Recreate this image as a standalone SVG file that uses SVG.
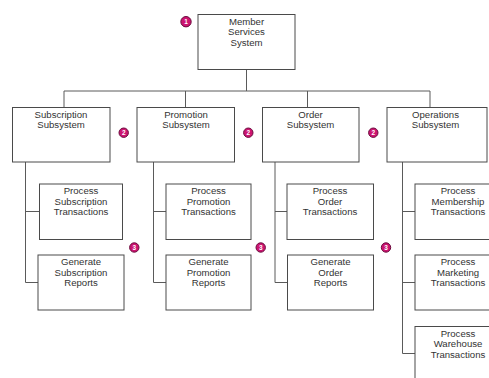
<svg xmlns="http://www.w3.org/2000/svg" width="489" height="378" viewBox="0 0 489 378">
<defs>
<style>
.box{fill:#fff;stroke:#4a4a4a;stroke-width:1}
.ln{fill:none;stroke:#5a5a5a;stroke-width:1}
.t{font-family:"Liberation Sans",Arial,sans-serif;font-size:9.6px;fill:#333;text-anchor:middle}
.bd{fill:#cc1470;stroke:#6a0a3c;stroke-width:1}
.bt{font-family:"Liberation Sans",Arial,sans-serif;font-size:6.5px;font-weight:bold;fill:#fff;text-anchor:middle}
</style>
</defs>
<rect width="489" height="378" fill="#fff"/>
<g id="connectors">
<path class="ln" d="M246.5 69V91M64 91H430M64 91V107M185.5 91V107M307.5 91V107M430 91V107"/>
<path class="ln" d="M25.5 162V282.5M25.5 211.5H39M25.5 282.5H38"/>
<path class="ln" d="M153.5 162V282.5M153.5 211.5H166M153.5 282.5H166"/>
<path class="ln" d="M275 162V282.5M275 211.5H287M275 282.5H287"/>
<path class="ln" d="M402.5 162V353.5M402.5 211.5H415M402.5 282.5H415M402.5 353.5H415"/>
</g>
<g id="n-member">
<rect class="box" x="198" y="14.5" width="97" height="55"/>
<text class="t" x="246.5" y="25">Member</text>
<text class="t" x="246.5" y="35.3">Services</text>
<text class="t" x="246.5" y="45.6">System</text>
</g>
<g id="n-subscription">
<rect class="box" x="12.5" y="107.5" width="97.5" height="54.5"/>
<text class="t" x="61" y="117.5">Subscription</text>
<text class="t" x="61" y="127.8">Subsystem</text>
</g>
<g id="n-promotion">
<rect class="box" x="137" y="107.5" width="97.5" height="54.5"/>
<text class="t" x="186" y="117.5">Promotion</text>
<text class="t" x="186" y="127.8">Subsystem</text>
</g>
<g id="n-order">
<rect class="box" x="262.5" y="107.5" width="96.5" height="54.5"/>
<text class="t" x="310.5" y="117.5">Order</text>
<text class="t" x="310.5" y="127.8">Subsystem</text>
</g>
<g id="n-operations">
<rect class="box" x="387" y="107.5" width="100" height="54.5"/>
<text class="t" x="435.5" y="117.5">Operations</text>
<text class="t" x="435.5" y="127.8">Subsystem</text>
</g>
<g id="n-proc-sub">
<rect class="box" x="39.5" y="184" width="83" height="55.5"/>
<text class="t" x="81" y="194">Process</text>
<text class="t" x="81" y="204.5">Subscription</text>
<text class="t" x="81" y="215">Transactions</text>
</g>
<g id="n-gen-sub">
<rect class="box" x="38" y="255" width="86" height="55"/>
<text class="t" x="81" y="265">Generate</text>
<text class="t" x="81" y="275.5">Subscription</text>
<text class="t" x="81" y="286">Reports</text>
</g>
<g id="n-proc-promo">
<rect class="box" x="166" y="184" width="85" height="55.5"/>
<text class="t" x="208.5" y="194">Process</text>
<text class="t" x="208.5" y="204.5">Promotion</text>
<text class="t" x="208.5" y="215">Transactions</text>
</g>
<g id="n-gen-promo">
<rect class="box" x="166" y="255" width="85" height="55"/>
<text class="t" x="208.5" y="265">Generate</text>
<text class="t" x="208.5" y="275.5">Promotion</text>
<text class="t" x="208.5" y="286">Reports</text>
</g>
<g id="n-proc-order">
<rect class="box" x="287" y="184" width="86.5" height="55.5"/>
<text class="t" x="330" y="194">Process</text>
<text class="t" x="330" y="204.5">Order</text>
<text class="t" x="330" y="215">Transactions</text>
</g>
<g id="n-gen-order">
<rect class="box" x="287.5" y="255" width="86" height="55"/>
<text class="t" x="330.5" y="265">Generate</text>
<text class="t" x="330.5" y="275.5">Order</text>
<text class="t" x="330.5" y="286">Reports</text>
</g>
<g id="n-proc-member">
<rect class="box" x="415" y="184" width="86" height="55.5"/>
<text class="t" x="458" y="194">Process</text>
<text class="t" x="458" y="204.5">Membership</text>
<text class="t" x="458" y="215">Transactions</text>
</g>
<g id="n-proc-marketing">
<rect class="box" x="415" y="255" width="86" height="55"/>
<text class="t" x="458" y="265">Process</text>
<text class="t" x="458" y="275.5">Marketing</text>
<text class="t" x="458" y="286">Transactions</text>
</g>
<g id="n-proc-warehouse">
<rect class="box" x="415" y="326.5" width="86" height="60"/>
<text class="t" x="458" y="336.5">Process</text>
<text class="t" x="458" y="347">Warehouse</text>
<text class="t" x="458" y="357.5">Transactions</text>
</g>
<g id="badges">
<circle class="bd" cx="186" cy="21.7" r="5.2"/><text class="bt" x="186" y="24">1</text>
<circle class="bd" cx="123.7" cy="132.7" r="4.7"/><text class="bt" x="123.7" y="135">2</text>
<circle class="bd" cx="248.3" cy="132.7" r="4.7"/><text class="bt" x="248.3" y="135">2</text>
<circle class="bd" cx="373.3" cy="132.7" r="4.7"/><text class="bt" x="373.3" y="135">2</text>
<circle class="bd" cx="134.3" cy="247.5" r="4.7"/><text class="bt" x="134.3" y="249.8">3</text>
<circle class="bd" cx="260.7" cy="247.5" r="4.7"/><text class="bt" x="260.7" y="249.8">3</text>
<circle class="bd" cx="386" cy="247.5" r="4.7"/><text class="bt" x="386" y="249.8">3</text>
</g>
</svg>
